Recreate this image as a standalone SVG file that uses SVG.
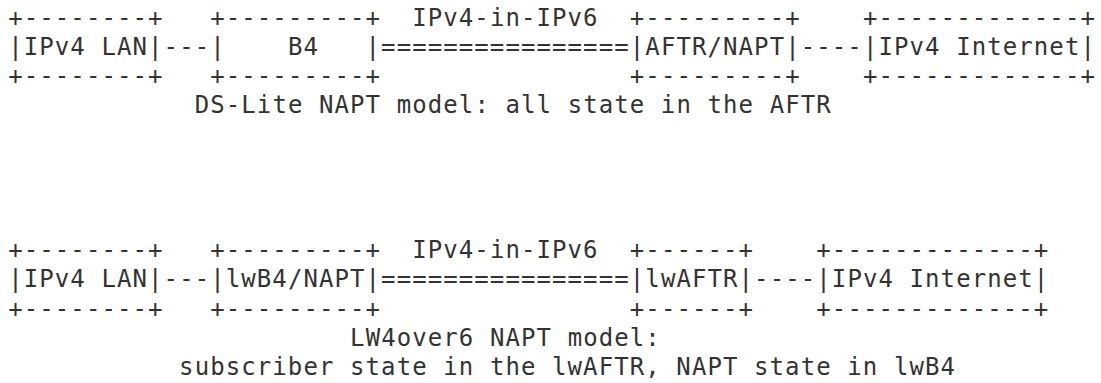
<svg xmlns="http://www.w3.org/2000/svg" width="1101" height="383" viewBox="0 0 1101 383">
<style>
text{font-family:"DejaVu Sans Mono",monospace;font-size:24px;letter-spacing:1.09px;fill:#333;white-space:pre}
</style>
<rect width="1101" height="383" fill="#fff"/>
<g id="lan1">
<text x="8.2" y="25.5">+--------+</text>
<text x="8.2" y="54.6">|IPv4 LAN|</text>
<text x="8.2" y="83.7">+--------+</text>
</g>
<g id="b4">
<text x="210.2" y="25.5">+---------+</text>
<text x="210.2" y="54.6">|    B4   |</text>
<text x="210.2" y="83.7">+---------+</text>
</g>
<g id="aftr">
<text x="629.8" y="25.5">+---------+</text>
<text x="629.8" y="54.6">|AFTR/NAPT|</text>
<text x="629.8" y="83.7">+---------+</text>
</g>
<g id="inet1">
<text x="862.9" y="25.5">+-------------+</text>
<text x="862.9" y="54.6">|IPv4 Internet|</text>
<text x="862.9" y="83.7">+-------------+</text>
</g>
<g id="connectors1">
<text x="163.6" y="54.6">---</text>
<text x="381.1" y="54.6">================</text>
<text x="412.2" y="25.5">IPv4-in-IPv6</text>
<text x="800.7" y="54.6">----</text>
</g>
<text id="caption1" x="194.7" y="112.8">DS-Lite NAPT model: all state in the AFTR</text>
<g id="lan2">
<text x="8.2" y="258.3">+--------+</text>
<text x="8.2" y="287.4">|IPv4 LAN|</text>
<text x="8.2" y="316.5">+--------+</text>
</g>
<g id="lwb4">
<text x="210.2" y="258.3">+---------+</text>
<text x="210.2" y="287.4">|lwB4/NAPT|</text>
<text x="210.2" y="316.5">+---------+</text>
</g>
<g id="lwaftr">
<text x="629.8" y="258.3">+------+</text>
<text x="629.8" y="287.4">|lwAFTR|</text>
<text x="629.8" y="316.5">+------+</text>
</g>
<g id="inet2">
<text x="816.3" y="258.3">+-------------+</text>
<text x="816.3" y="287.4">|IPv4 Internet|</text>
<text x="816.3" y="316.5">+-------------+</text>
</g>
<g id="connectors2">
<text x="163.6" y="287.4">---</text>
<text x="381.1" y="287.4">================</text>
<text x="412.2" y="258.3">IPv4-in-IPv6</text>
<text x="754.1" y="287.4">----</text>
</g>
<text id="caption2a" x="350.1" y="345.6">LW4over6 NAPT model:</text>
<text id="caption2b" x="179.1" y="374.7">subscriber state in the lwAFTR, NAPT state in lwB4</text>
</svg>
